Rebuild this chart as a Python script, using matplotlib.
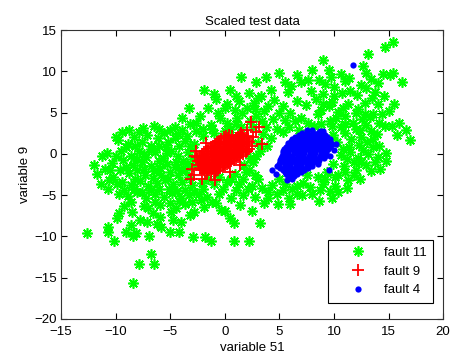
import numpy as np
import matplotlib
matplotlib.use('Agg')
import matplotlib.pyplot as plt

plt.rcParams['font.family'] = ['Liberation Sans', 'DejaVu Sans']

# fault 11 (green asterisks) as (variable 51, variable 9)
fault11 = [
    (15.4, 13.5), (14.7, 13.0), (13.1, 12.1), (9.0, 11.4),
    (12.7, 10.7), (8.0, 10.2), (9.5, 10.2),
    (5.0, 9.8), (10.6, 9.7), (12.9, 9.8), (14.5, 9.7), (15.4, 9.8), (15.1, 9.5),
    (1.5, 9.3), (3.8, 9.3), (8.6, 9.0), (11.4, 9.2), (13.4, 9.1),
    (2.9, 8.7), (5.5, 8.7), (7.0, 8.7), (16.2, 8.7), (9.2, 8.5), (12.5, 8.4), (6.1, 8.2), (10.0, 8.1),
    (-1.9, 7.7), (0.5, 7.7), (2.2, 7.4), (4.2, 7.8), (5.8, 7.5), (7.9, 7.6), (9.0, 7.2),
    (10.7, 7.4), (12.1, 7.1), (13.8, 7.5), (3.3, 7.0),
    (-0.8, 6.6), (1.3, 6.4), (2.7, 6.2), (4.5, 6.5), (6.6, 6.4), (8.4, 6.6), (9.8, 6.3),
    (11.3, 6.0), (12.8, 6.2), (14.0, 6.0), (15.5, 6.1), (0.2, 6.0), (5.3, 5.8), (7.4, 5.9),
    (-3.3, 5.6), (-1.5, 5.5), (0.9, 5.3), (2.0, 5.6), (3.6, 5.2), (6.0, 5.0), (8.8, 5.3),
    (10.4, 5.1), (12.2, 5.4), (13.6, 4.8), (11.0, 4.6),
    (-3.9, 4.4), (-2.3, 4.6), (-0.4, 4.3), (1.1, 4.4), (2.9, 4.6), (4.4, 4.2), (5.5, 4.1),
    (7.0, 4.4), (9.6, 4.0), (12.6, 4.2), (13.3, 4.5), (14.1, 3.8),
    (-8.8, 2.9), (-6.5, 3.4), (-4.6, 3.3), (-3.2, 3.6), (-1.3, 3.5), (0.5, 3.0), (3.8, 3.2),
    (4.8, 3.0), (5.9, 3.3), (10.6, 3.2), (12.0, 3.0), (13.4, 2.8), (14.7, 3.4), (15.3, 3.4), (16.6, 2.9),
    (-9.4, 2.6), (-7.9, 2.7), (-7.1, 2.3), (-5.6, 2.5), (-4.3, 2.4), (-3.5, 2.2), (-2.6, 2.8),
    (3.5, 2.4), (4.2, 1.9), (9.9, 2.3), (11.0, 2.5), (12.5, 2.0), (13.6, 1.8), (-10.0, 2.1),
    (-8.3, 2.0), (-6.1, 1.9),
    (-9.8, 1.7), (-8.9, 1.2), (-7.6, 1.5), (-6.8, 1.0), (-5.2, 1.4), (-4.2, 1.0), (-3.6, 1.6),
    (-2.8, 1.2), (3.0, 1.3), (3.9, 0.9), (10.3, 1.4), (11.4, 0.8), (12.3, 1.1), (13.0, 1.5),
    (17.0, 1.7), (14.1, 1.0),
    (-10.8, 0.1), (-11.2, -0.3), (-9.5, 0.3), (-8.6, -0.2), (-7.9, 0.4), (-7.2, -0.4), (-6.4, 0.2),
    (-5.7, -0.5), (-4.9, 0.4), (-4.3, -0.3), (-3.4, 0.2), (2.9, -0.2), (10.6, -0.1), (11.5, 0.2),
    (12.2, -0.5), (13.1, 0.0), (14.8, 0.1), (14.0, -0.4),
    (-12.0, -1.4), (-10.3, -1.1), (-9.3, -0.8), (-8.4, -1.3), (-7.6, -1.0), (-6.8, -1.5),
    (-6.0, -0.9), (-5.3, -1.2), (-4.6, -1.6), (-3.8, -0.9), (-2.9, -1.5), (1.8, -1.3), (2.6, -1.0),
    (9.9, -1.2), (10.9, -1.5), (11.8, -1.0), (12.9, -1.3), (14.8, -0.9), (13.8, -1.0),
    (-11.7, -2.4), (-10.2, -2.8), (-9.6, -2.0), (-8.8, -2.3), (-8.0, -2.0), (-7.3, -2.5),
    (-6.5, -2.1), (-5.8, -2.6), (-5.0, -2.2), (-4.3, -2.5), (-3.6, -2.0), (0.9, -2.4), (1.9, -2.2),
    (2.8, -2.6), (9.4, -2.2), (10.4, -2.5), (11.3, -3.2), (12.4, -3.1), (8.5, -2.8), (7.5, -2.6),
    (11.0, -2.2), (13.4, -2.1), (12.0, -2.0),
    (-11.3, -3.7), (-10.7, -4.3), (-9.4, -3.4), (-8.6, -3.8), (-7.8, -3.3), (-7.0, -3.9),
    (-6.2, -3.5), (-5.5, -3.2), (-4.7, -3.7), (-3.9, -3.4), (-3.0, -3.8), (-2.1, -3.5),
    (-1.0, -3.7), (0.2, -3.4), (1.3, -3.6), (2.5, -3.9), (3.4, -4.1), (5.5, -3.6), (6.6, -3.9),
    (7.8, -4.0), (9.0, -3.7), (10.1, -3.9),
    (-8.3, -4.3), (-6.8, -4.4), (-5.1, -4.2), (-3.6, -4.4), (-2.0, -4.3), (-0.2, -4.2),
    (1.0, -4.4), (2.1, -4.3), (9.6, -4.5), (11.2, -4.1), (8.0, -4.8), (6.6, -4.8), (5.3, -4.4),
    (-9.7, -4.8), (-8.9, -5.1), (-8.0, -4.6), (-7.2, -5.3), (-6.4, -4.9), (-5.6, -5.2),
    (-4.8, -4.7), (-4.0, -5.3), (-3.3, -5.0), (-2.4, -4.9), (-1.6, -5.2), (-0.5, -4.8),
    (0.6, -5.3), (1.7, -5.0), (2.8, -5.2), (4.0, -5.3), (4.8, -4.8), (5.9, -5.4), (7.1, -5.0),
    (8.6, -5.7), (9.8, -5.3),
    (-9.2, -6.3), (-7.4, -6.3), (-5.9, -6.2), (-4.5, -6.6), (-3.6, -6.1), (-2.8, -7.0),
    (-1.9, -6.4), (-0.8, -6.0), (0.0, -6.9), (1.4, -6.2), (2.5, -6.9), (3.6, -6.0), (4.9, -6.1),
    (6.0, -6.1), (-0.3, -6.8),
    (-9.9, -7.8), (-9.7, -7.2), (-7.8, -8.0), (-7.1, -8.3), (-6.2, -8.5), (-5.9, -7.6),
    (-5.8, -8.8), (-4.7, -8.0), (-4.0, -8.3), (-3.2, -7.4), (0.8, -8.4), (0.5, -7.8), (3.2, -8.4),
    (-8.6, -8.6),
    (-12.6, -9.6), (-10.1, -10.6), (-10.7, -9.5), (-10.7, -8.9), (-9.0, -9.5), (-8.4, -10.0),
    (-8.1, -9.6), (-6.9, -10.0), (-5.0, -9.5), (-4.2, -9.5), (-2.9, -10.1), (-1.8, -10.1),
    (-1.3, -10.5), (0.8, -10.6), (2.2, -10.6),
    (-6.8, -12.1), (-7.9, -13.4), (-6.5, -13.4), (-8.4, -15.6),
    (-8.0, -0.6), (-6.8, 0.6), (-5.4, 0.8), (-3.0, -0.6), (-1.0, 2.5), (0.2, 3.8), (1.5, 3.2),
    (2.3, 4.0), (-2.0, 3.0), (8.5, 4.8), (9.5, 5.8), (10.8, 5.6), (11.7, 3.8), (12.9, 3.5),
    (8.2, 3.4),
    # denser parts of the left cloud
    (-10.5, -2.0), (-10.0, -0.3), (-9.9, -3.6), (-9.0, -1.6), (-8.2, -3.0), (-7.4, -1.8),
    (-6.6, -2.9), (-5.9, -1.7), (-5.2, -3.0), (-4.5, -1.0), (-4.0, -2.0), (-3.3, -2.8),
    (-9.0, 0.8), (-8.2, 1.0), (-7.4, 0.0), (-6.0, 0.9), (-5.3, 0.1), (-4.6, 1.9), (-3.9, 2.9),
    (-5.0, 2.9), (-7.5, 3.1), (-6.0, 3.0), (-8.6, -5.8), (-7.0, -6.5), (-6.4, -5.8), (-5.0, -6.0),
    (-4.2, -5.7), (-3.0, -5.8), (-2.2, -5.6), (-1.2, -5.8), (-8.5, -7.0), (-6.6, -7.2),
    (-4.9, -7.1), (-11.0, -1.8), (-10.6, -3.2), (-9.2, -4.4), (-7.6, -4.6), (-6.0, -4.2),
    (-4.4, -4.5), (-2.8, -4.6),
    # centre
    (-1.5, -3.0), (-0.5, -2.8), (0.6, -3.0), (1.7, -3.0), (2.2, -2.0), (3.0, -3.0), (2.3, -0.5),
    (3.2, 0.4), (-3.5, -1.2), (-3.2, 0.9), (-2.0, 2.2), (-1.2, 3.0), (0.0, 2.8), (1.0, 3.6),
    (2.6, 3.2), (3.4, 4.0), (-2.6, 3.8), (-0.6, 5.0), (1.6, 5.0), (2.8, 5.4), (4.0, 5.8),
    (5.0, 5.0), (3.0, 6.8), (1.0, 7.0), (-1.0, 7.3), (0.0, 5.6),
    # right cloud
    (9.0, 6.0), (10.0, 7.0), (11.5, 7.6), (12.9, 8.0), (13.5, 6.8), (14.6, 7.0), (12.0, 5.0),
    (11.0, 3.6), (10.2, 4.4), (12.8, 4.8), (14.4, 4.8), (13.9, 2.4), (12.4, 2.9), (11.6, 1.8),
    (10.8, 0.6), (12.7, 0.5), (13.6, 0.8), (11.2, -0.6), (12.5, -1.0), (14.2, -1.8),
    (10.1, -2.8), (11.8, -2.6), (9.2, -3.0), (8.7, -4.4), (10.4, -4.6), (7.2, -3.5), (6.2, -4.3),
    (5.0, -3.0), (4.3, -3.8), (4.0, -4.6), (8.8, 3.6), (7.6, 3.8), (6.4, 4.0), (6.8, 2.9),
    (5.3, 2.6), (9.8, 3.4), (15.8, 2.3), (16.0, 3.8), (15.0, 5.2), (14.0, 8.6), (11.0, 8.8),
    (7.6, 8.9), (6.6, 9.6), (9.7, 9.3),
]

# fault 9 (red plus signs)
fault9 = [
    (-2.2, -2.0), (-1.8, -1.6), (-1.4, -1.2), (-1.0, -0.9), (-0.6, -0.5), (-0.2, -0.1),
    (0.2, 0.3), (0.6, 0.7), (1.0, 1.0), (1.4, 1.4), (1.8, 1.8), (2.1, 2.2),
    (-2.4, -1.3), (-2.0, -0.9), (-1.6, -0.5), (-1.2, -0.2), (-0.8, 0.2), (-0.4, 0.6),
    (0.0, 1.0), (0.4, 1.4), (0.8, 1.7), (1.2, 2.1), (1.5, 2.5),
    (-1.8, -2.3), (-1.4, -2.0), (-1.0, -1.6), (-0.6, -1.2), (-0.2, -0.8), (0.2, -0.5),
    (0.6, -0.1), (1.0, 0.3), (1.4, 0.6), (1.8, 1.0), (2.2, 1.4),
    (-2.5, -0.4), (-2.1, 0.0), (-1.7, 0.4), (-1.3, 0.8), (-0.9, 1.2), (-0.5, 1.6),
    (-0.1, 2.0), (0.4, 2.3),
    (-1.0, -2.3), (-0.6, -1.9), (-0.2, -1.6), (0.2, -1.2), (0.6, -0.9), (1.0, -0.5),
    (1.4, -0.2), (1.9, 0.2), (2.2, 0.6),
    (-2.0, -1.5), (-1.6, -1.1), (-1.2, -0.7), (-0.8, -0.3), (-0.4, 0.1), (0.0, 0.5),
    (0.4, 0.9), (0.8, 1.2), (1.2, 1.6), (1.6, 2.0),
    (-1.6, -1.9), (-1.2, -1.5), (-0.8, -1.1), (-0.4, -0.7), (0.0, -0.3), (0.4, 0.1),
    (0.8, 0.5), (1.2, 0.8), (1.6, 1.2), (2.0, 1.6),
    (-2.0, -1.8), (-1.6, -1.4), (-1.2, -1.05), (-0.8, -0.7), (-0.4, -0.3), (0.0, 0.1),
    (0.4, 0.5), (0.8, 0.85), (1.2, 1.2), (1.6, 1.6), (2.0, 2.0),
    (-2.2, -1.1), (-1.8, -0.7), (-1.4, -0.35), (-1.0, 0.0), (-0.6, 0.4), (-0.2, 0.8),
    (0.2, 1.2), (0.6, 1.55), (1.0, 1.9), (1.35, 2.3),
    (-1.6, -2.15), (-1.2, -1.8), (-0.8, -1.4), (-0.4, -1.0), (0.0, -0.65), (0.4, -0.3),
    (0.8, 0.1), (1.2, 0.45), (1.6, 0.8), (2.0, 1.2),
    (-2.3, -0.2), (-1.9, 0.2), (-1.5, 0.6), (-1.1, 1.0), (-0.7, 1.4), (-0.3, 1.8), (0.15, 2.15),
    (-0.8, -2.1), (-0.4, -1.75), (0.0, -1.4), (0.4, -1.05), (0.8, -0.7), (1.2, -0.35),
    (1.65, 0.0), (2.05, 0.4),
    (-2.3, -1.65), (-1.9, -1.25), (-1.5, -0.85), (-1.1, -0.5), (-0.7, -0.1), (-0.3, 0.3),
    (0.1, 0.75), (0.5, 1.1), (0.9, 1.45), (1.3, 1.85), (1.7, 2.3),
    (-1.9, -2.0), (-1.5, -1.7), (-1.1, -1.3), (-0.7, -0.9), (-0.3, -0.5), (0.1, -0.1),
    (0.5, 0.3), (0.9, 0.65), (1.3, 1.0), (1.7, 1.4), (2.1, 1.8),
    (-2.45, -0.85), (-2.05, -0.45), (-1.65, -0.05), (-1.25, 0.35), (-0.85, 0.75),
    (-0.45, 1.15), (-0.05, 1.5), (0.3, 1.9), (0.7, 2.2),
    (-1.3, -2.3), (-0.9, -1.95), (-0.5, -1.55), (-0.1, -1.2), (0.3, -0.85), (0.7, -0.5),
    (1.1, -0.15), (1.5, 0.2), (1.95, 0.55),
    (2.4, 3.9), (3.1, 3.3), (3.4, 1.2), (1.4, -1.4), (-3.1, -3.1), (-2.1, -3.1),
    (-0.9, -3.2), (0.5, -2.2), (2.6, 2.1), (2.0, 2.9), (-3.0, -1.8), (-2.7, -0.3),
    (-2.6, 0.3), (-1.7, 1.3), (2.9, 2.6), (-2.8, -2.6), (2.5, 1.0),
]

# fault 4 (blue dots)
fault4 = [
    (7.5, 2.9), (8.0, 2.9), (8.7, 2.8),
    (6.8, 2.3), (7.3, 2.3), (7.8, 2.3), (8.3, 2.3), (8.8, 2.3), (9.2, 2.3),
    (6.2, 1.8), (6.7, 1.8), (7.2, 1.8), (7.7, 1.8), (8.2, 1.8), (8.7, 1.8), (9.2, 1.8), (9.6, 1.8),
    (5.8, 1.3), (6.3, 1.3), (6.8, 1.3), (7.3, 1.3), (7.8, 1.3), (8.3, 1.3), (8.8, 1.3),
    (9.3, 1.3), (9.7, 1.3),
    (5.6, 0.8), (6.1, 0.8), (6.6, 0.8), (7.1, 0.8), (7.6, 0.8), (8.1, 0.8), (8.6, 0.8),
    (9.1, 0.8), (9.6, 0.8),
    (5.3, 0.3), (5.8, 0.3), (6.3, 0.3), (6.8, 0.3), (7.3, 0.3), (7.8, 0.3), (8.3, 0.3),
    (8.8, 0.3), (9.3, 0.3),
    (5.2, -0.2), (5.7, -0.2), (6.2, -0.2), (6.7, -0.2), (7.2, -0.2), (7.7, -0.2), (8.2, -0.2),
    (8.7, -0.2), (9.2, -0.2), (9.6, -0.3),
    (5.1, -0.7), (5.6, -0.7), (6.1, -0.7), (6.6, -0.7), (7.1, -0.7), (7.6, -0.7), (8.1, -0.7),
    (8.6, -0.7),
    (5.0, -1.2), (5.5, -1.2), (6.0, -1.2), (6.5, -1.2), (7.0, -1.2), (7.5, -1.2), (8.0, -1.2),
    (8.5, -1.2),
    (5.1, -1.7), (5.6, -1.7), (6.1, -1.7), (6.6, -1.7), (7.1, -1.7), (7.6, -1.7),
    (5.5, -2.2), (6.0, -2.2), (6.5, -2.2), (7.0, -2.2),
    (5.8, -2.7), (6.3, -2.7),
    (7.05, 2.55), (7.55, 2.55), (8.05, 2.55), (8.55, 2.55), (9.0, 2.55),
    (6.45, 2.05), (6.95, 2.05), (7.45, 2.05), (7.95, 2.05), (8.45, 2.05), (8.95, 2.05), (9.4, 2.05),
    (6.05, 1.55), (6.55, 1.55), (7.05, 1.55), (7.55, 1.55), (8.05, 1.55), (8.55, 1.55),
    (9.05, 1.55), (9.5, 1.55),
    (5.75, 1.05), (6.25, 1.05), (6.75, 1.05), (7.25, 1.05), (7.75, 1.05), (8.25, 1.05),
    (8.75, 1.05), (9.25, 1.05), (9.7, 1.05),
    (5.45, 0.55), (5.95, 0.55), (6.45, 0.55), (6.95, 0.55), (7.45, 0.55), (7.95, 0.55),
    (8.45, 0.55), (8.95, 0.55), (9.45, 0.55),
    (5.3, 0.05), (5.8, 0.05), (6.3, 0.05), (6.8, 0.05), (7.3, 0.05), (7.8, 0.05), (8.3, 0.05),
    (8.8, 0.05), (9.3, 0.05),
    (5.15, -0.45), (5.65, -0.45), (6.15, -0.45), (6.65, -0.45), (7.15, -0.45), (7.65, -0.45),
    (8.15, -0.45), (8.65, -0.45), (9.1, -0.45),
    (5.05, -0.95), (5.55, -0.95), (6.05, -0.95), (6.55, -0.95), (7.05, -0.95), (7.55, -0.95),
    (8.05, -0.95), (8.55, -0.95),
    (5.0, -1.45), (5.5, -1.45), (6.0, -1.45), (6.5, -1.45), (7.0, -1.45), (7.5, -1.45), (8.0, -1.45),
    (5.3, -1.95), (5.8, -1.95), (6.3, -1.95), (6.8, -1.95), (7.3, -1.95),
    (5.65, -2.45), (6.15, -2.45), (6.65, -2.45),
    (11.7, 10.8), (10.2, 1.2), (4.3, -2.0), (4.7, -2.4), (5.7, -3.2), (6.2, -3.0),
    (9.5, -1.9), (9.0, 2.8), (10.0, 0.5), (4.8, -1.5),
]

xlim = (-15, 20)
ylim = (-20, 15)
xticks = [-15, -10, -5, 0, 5, 10, 15, 20]
yticks = [-20, -15, -10, -5, 0, 5, 10, 15]

fig = plt.figure(figsize=(4.55, 3.58), dpi=100)
ax = fig.add_axes([0.134, 0.109, 0.840, 0.807])

x11, y11 = zip(*fault11)
x9, y9 = zip(*fault9)
x4, y4 = zip(*fault4)
ax.plot(x11, y11, linestyle='none', marker=(8, 2, 0), markersize=7.5,
        markeredgewidth=1.2, color=(0, 1, 0), label='fault 11')
ax.plot(x9, y9, linestyle='none', marker='+', markersize=8,
        markeredgewidth=1.3, color=(1, 0, 0), label='fault 9')
ax.plot(x4, y4, linestyle='none', marker='o', markersize=4.5,
        markeredgewidth=0, color=(0, 0, 1), label='fault 4')

ax.set_xlim(xlim)
ax.set_ylim(ylim)
ax.set_xticks(xticks)
ax.set_yticks(yticks)
ax.tick_params(direction='in', top=True, right=True, length=4, width=0.8,
               labelsize=9.5)
ax.tick_params(axis='x', pad=5)
ax.tick_params(axis='y', pad=3)
for s in ax.spines.values():
    s.set_linewidth(0.8)
    s.set_color('#333333')

ax.set_title('Scaled test data', fontsize=9.5, pad=4)
ax.set_xlabel('variable 51', fontsize=9.5, labelpad=3)
ax.set_ylabel('variable 9', fontsize=9.5, labelpad=2)

leg = ax.legend(loc='lower right', bbox_to_anchor=(0.974, 0.055), borderaxespad=0,
                numpoints=1, fancybox=False, edgecolor='black', fontsize=9.5,
                handlelength=3.5, handletextpad=0.2, borderpad=0.5,
                labelspacing=0.5, framealpha=1)
leg.get_frame().set_linewidth(0.8)

fig.savefig('out.png', dpi=100)
